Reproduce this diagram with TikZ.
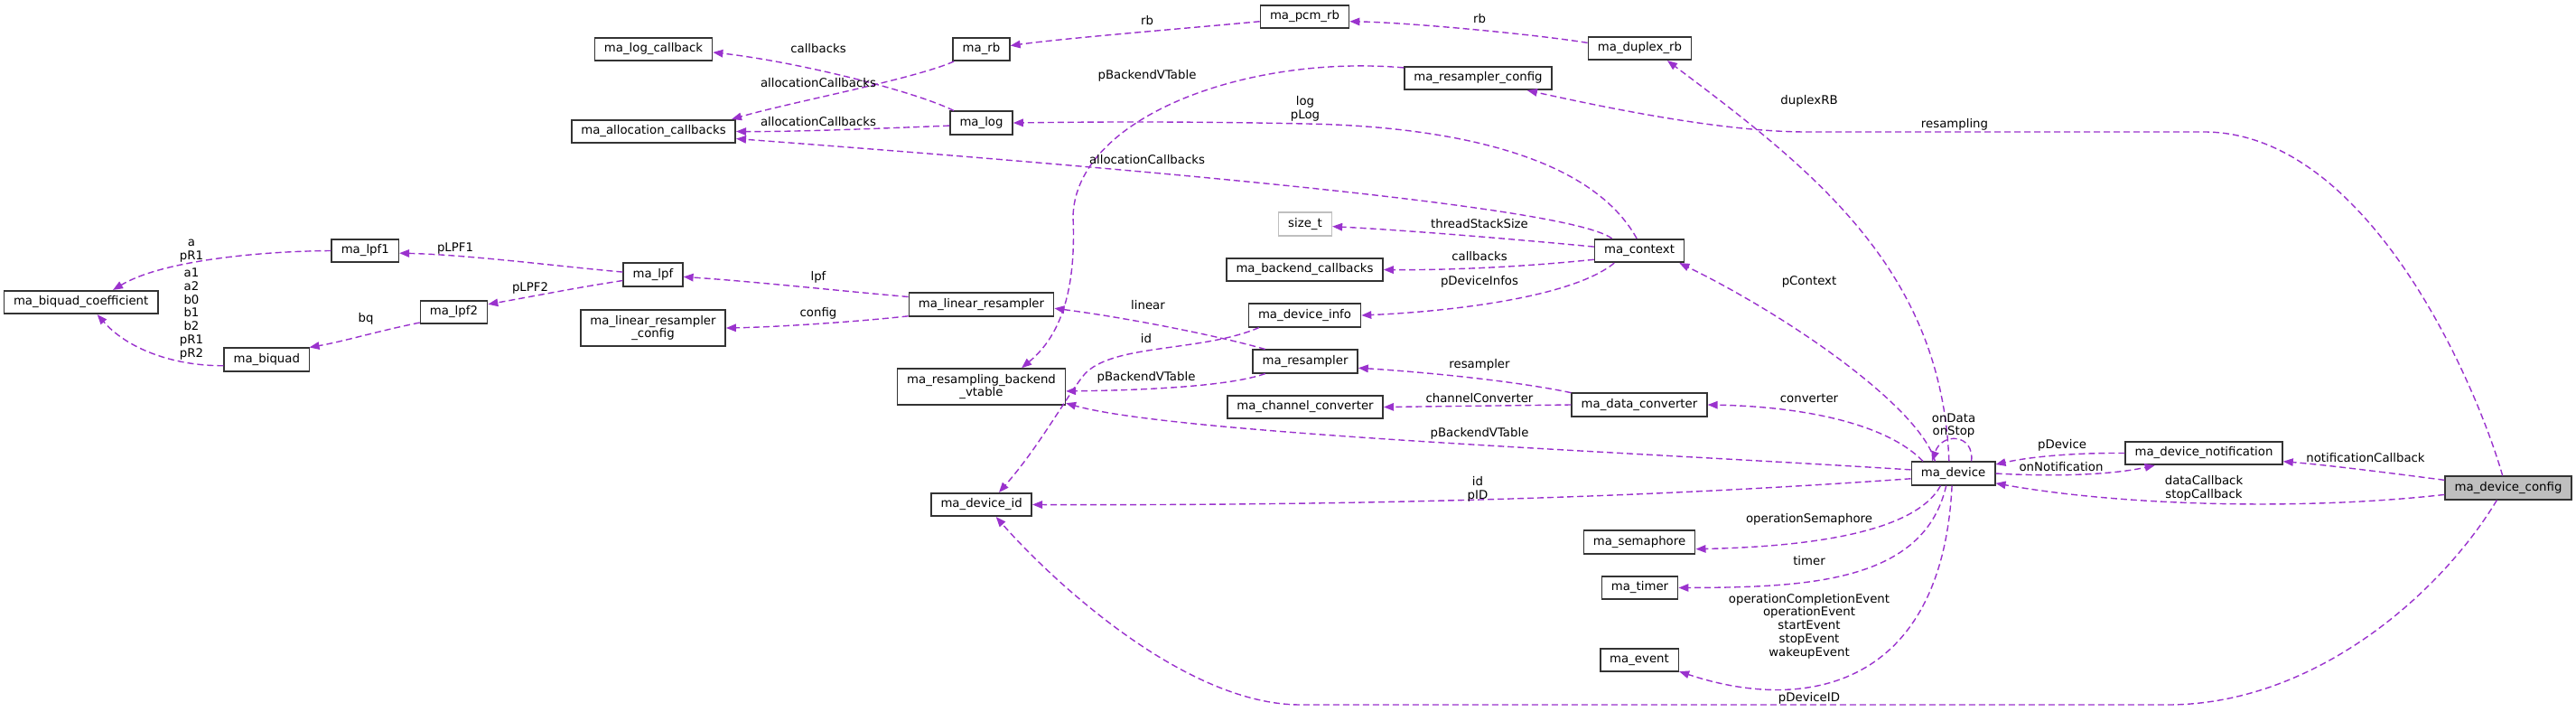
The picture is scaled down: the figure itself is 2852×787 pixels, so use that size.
\documentclass[tikz,border=0pt]{standalone}
\usepackage{fontspec}
\setmainfont{DejaVu Sans}
\usetikzlibrary{arrows.meta}
\definecolor{orchid}{HTML}{9A32CD}
\definecolor{boxline}{HTML}{333333}
\tikzset{
  cls/.style={draw=boxline, line width=1.6pt, rectangle, fill=white, minimum height=25.5pt, inner xsep=10.5pt, inner ysep=4pt, font=\fontsize{13.3}{14.7}\selectfont},
  twoline/.style={cls, align=center, minimum height=40pt},
  ext/.style={cls, draw=black!25},
  root/.style={cls, fill=black!25},
  member/.style={-{Triangle[length=11pt,width=8.5pt]}, draw=orchid, line width=1.4pt, dash pattern=on 7pt off 4pt},
  lbl/.style={font=\fontsize{13.3}{14.7}\selectfont, align=center, inner sep=0pt}
}

\begin{document}
\begin{tikzpicture}[x=1pt,y=-1pt]
  \useasboundingbox (0,0) rectangle (2852,787);

  % classes
  \node[cls] (logcb) at (723.5,54.5) {ma\_log\_callback};
  \node[cls] (alloc) at (723.5,145.5) {ma\_allocation\_callbacks};
  \node[cls] (lpfone) at (404.3,277.5) {ma\_lpf1};
  \node[cls] (lpf) at (723,304) {ma\_lpf};
  \node[cls] (coef) at (89.7,334.5) {ma\_biquad\_coefficient};
  \node[cls] (lpftwo) at (502.5,345.5) {ma\_lpf2};
  \node[twoline] (lincfg) at (723,363) {ma\_linear\_resampler\\\_config};
  \node[cls] (biquad) at (295.3,398) {ma\_biquad};
  \node[cls] (pcmrb) at (1444.5,18.5) {ma\_pcm\_rb};
  \node[cls] (rb) at (1086.5,54.5) {ma\_rb};
  \node[cls] (duplexrb) at (1815.5,53.5) {ma\_duplex\_rb};
  \node[cls] (rescfg) at (1636.5,86.5) {ma\_resampler\_config};
  \node[cls] (log) at (1086.5,136) {ma\_log};
  \node[ext] (sizet) at (1445,248) {size\_t};
  \node[cls] (context) at (1815,277.5) {ma\_context};
  \node[cls] (backend) at (1444.5,298.5) {ma\_backend\_callbacks};
  \node[cls] (linres) at (1086.5,337) {ma\_linear\_resampler};
  \node[cls] (devinfo) at (1444.5,349) {ma\_device\_info};
  \node[cls] (resampler) at (1445,400) {ma\_resampler};
  \node[twoline] (vtable) at (1086.5,428) {ma\_resampling\_backend\\\_vtable};
  \node[cls] (chconv) at (1445,450.5) {ma\_channel\_converter};
  \node[cls] (dataconv) at (1815,448) {ma\_data\_converter};
  \node[cls] (devid) at (1086.6,558.5) {ma\_device\_id};
  \node[cls] (sema) at (1815,600) {ma\_semaphore};
  \node[cls] (timer) at (1815.5,650.5) {ma\_timer};
  \node[cls] (event) at (1815,730.5) {ma\_event};
  \node[cls] (device) at (2162.5,524) {ma\_device};
  \node[cls] (notif) at (2440,501.5) {ma\_device\_notification};
  \node[root] (config) at (2777,540) {ma\_device\_config};

  % members
  \draw[member] (log.156) .. controls (1010,100) and (880,68) .. (logcb.-3);
  \draw[member] (rb.-156) .. controls (1010,88) and (880,112) .. ([xshift=-5pt]alloc.north east);
  \draw[member] (log.185) .. controls (980,142) and (880,146) .. (alloc.east);
  \draw[member] (context.156) .. controls (1740,230) and (1300,190) .. (alloc.-5);
  \draw[member] (pcmrb.186) .. controls (1330,30) and (1180,42) .. (rb.7);
  \draw[member] (duplexrb.174) .. controls (1700,38) and (1560,25) .. (pcmrb.-6);
  \draw[member] (rescfg.172) .. controls (1380,60) and (1190,130) .. (1188,240) .. controls (1192,330) and (1170,375) .. (vtable.25);
  \draw[member] (context.102) .. controls (1760,170) and (1600,140) .. (1447,137) .. controls (1300,134) and (1200,135) .. (log.east);
  \draw[member] (config.115) .. controls (2740,420) and (2620,146) .. (2440,146) -- (2000,146) .. controls (1900,146) and (1760,115) .. (rescfg.-14);
  \draw[member] (device.109) .. controls (2150,300) and (2010,190) .. (duplexrb.-24);
  \draw[member] (device.146) .. controls (2125,450) and (1980,350) .. (context.-17);
  \draw[member] (device.158) .. controls (2090,470) and (2000,450) .. (dataconv.east);
  \draw[member] (context.175) .. controls (1680,265) and (1560,255) .. (sizet.-5);
  \draw[member] (context.191) .. controls (1680,296) and (1600,299) .. (backend.east);
  \draw[member] (context.206) .. controls (1740,330) and (1600,345) .. (devinfo.east);
  \draw[member] (lpf.175) .. controls (620,295) and (520,282) .. (lpfone.-4);
  \draw[member] (lpf.191) .. controls (640,318) and (590,328) .. (lpftwo.13);
  \draw[member] (lpfone.west) .. controls (290,278) and (180,288) .. (coef.21);
  \draw[member] (biquad.188) .. controls (190,405) and (140,385) .. (coef.-37);
  \draw[member] (lpftwo.197) .. controls (420,366) and (380,378) .. (biquad.16);
  \draw[member] (linres.174) .. controls (930,322) and (840,312) .. (lpf.-4);
  \draw[member] (linres.189) .. controls (950,356) and (860,362) .. (lincfg.east);
  \draw[member] (resampler.163) .. controls (1350,372) and (1250,352) .. (linres.-3);
  \draw[member] (devinfo.195) .. controls (1330,390) and (1230,380) .. (1200,415) .. controls (1180,440) and (1150,495) .. (devid.35);
  \draw[member] (resampler.197) .. controls (1360,428) and (1260,432) .. (vtable.-3);
  \draw[member] (dataconv.170) .. controls (1680,422) and (1580,412) .. (resampler.-7);
  \draw[member] (dataconv.west) -- (chconv.east);
  \draw[member] (device.175) .. controls (1800,500) and (1300,480) .. (vtable.-11);
  \draw[member] (device.187) .. controls (1900,545) and (1600,560) .. (devid.east);
  \draw[member] (device.-136) .. controls (2120,590) and (2000,605) .. (sema.-7);
  \draw[member] (device.-120) .. controls (2130,645) and (2000,650) .. (timer.east);
  \draw[member] (device.-96) .. controls (2150,760) and (2000,790) .. (event.-16);
  \draw[member] (device.34) .. controls (2186,480) and (2150,478) .. (device.150);
  \draw[member] (notif.west) .. controls (2300,501) and (2250,505) .. (device.12);
  \draw[member] (device.east) .. controls (2280,528) and (2340,525) .. (notif.194);
  \draw[member] (config.173) .. controls (2650,524) and (2580,515) .. (notif.-6);
  \draw[member] (config.186) .. controls (2550,565) and (2350,560) .. (device.-13);
  \draw[member] (config.-133) .. controls (2700,660) and (2560,780) .. (2400,780) -- (1440,780) .. controls (1310,780) and (1161.5,639) .. (devid.-40);

  % member names
  \node[lbl] (lcallbacks) at (906,54) {callbacks};
  \node[lbl] (lallocrb) at (906,92) {allocationCallbacks};
  \node[lbl] (lalloclog) at (906,135) {allocationCallbacks};
  \node[lbl] (lallocctx) at (1270,177) {allocationCallbacks};
  \node[lbl] (lrb) at (1270,23) {rb};
  \node[lbl] (lpcmrb) at (1638,21) {rb};
  \node[lbl] (lvtcfg) at (1270,84) {pBackendVTable};
  \node[lbl] (llog) at (1445,120) {log\\pLog};
  \node[lbl] (lresampling) at (2164,138) {resampling};
  \node[lbl] (lduplex) at (2003,112) {duplexRB};
  \node[lbl] (lstack) at (1638,248) {threadStackSize};
  \node[lbl] (lbackend) at (1638,284) {callbacks};
  \node[lbl] (linfos) at (1638,312) {pDeviceInfos};
  \node[lbl] (lcontext) at (2003,312) {pContext};
  \node[lbl] (lpfa) at (504,275) {pLPF1};
  \node[lbl] (lpfb) at (587,319) {pLPF2};
  \node[lbl] (lcoefa) at (212,278) {a\\pR1};
  \node[lbl] (lcoefb) at (212,347.5) {a1\\a2\\b0\\b1\\b2\\pR1\\pR2};
  \node[lbl] (lbq) at (405,353) {bq};
  \node[lbl] (llpf) at (906,307) {lpf};
  \node[lbl] (lconfig) at (906,347) {config};
  \node[lbl] (llinear) at (1271,338) {linear};
  \node[lbl] (lid) at (1269,375) {id};
  \node[lbl] (lvtres) at (1269,418) {pBackendVTable};
  \node[lbl] (lresampler) at (1638,404) {resampler};
  \node[lbl] (lchannel) at (1638,441) {channelConverter};
  \node[lbl] (lconverter) at (2003,441) {converter};
  \node[lbl] (lvtdev) at (1638,480) {pBackendVTable};
  \node[lbl] (lpid) at (1636,541) {id\\pID};
  \node[lbl] (lself) at (2163,471) {onData\\onStop};
  \node[lbl] (lpdevice) at (2283,493) {pDevice};
  \node[lbl] (lonnotif) at (2282,517) {onNotification};
  \node[lbl] (lnotifcb) at (2619,507) {notificationCallback};
  \node[lbl] (ldatacb) at (2440,540) {dataCallback\\stopCallback};
  \node[lbl] (lsema) at (2003,575) {operationSemaphore};
  \node[lbl] (ltimer) at (2003,621) {timer};
  \node[lbl] (levents) at (2003,693) {operationCompletionEvent\\operationEvent\\startEvent\\stopEvent\\wakeupEvent};
  \node[lbl] (ldevid) at (2003,773) {pDeviceID};
\end{tikzpicture}
\end{document}
